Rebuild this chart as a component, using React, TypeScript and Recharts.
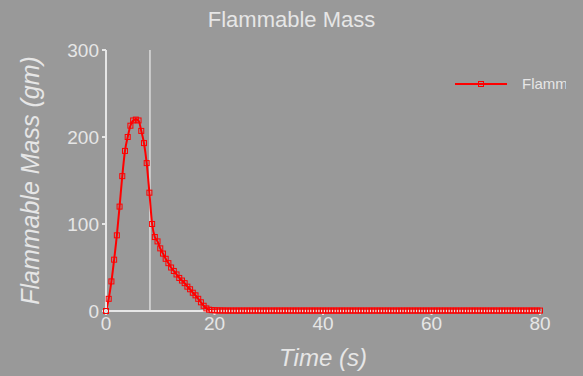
import { LineChart, Line, XAxis, YAxis, ReferenceLine } from "recharts"

// time in seconds, 0.5 s sampling
const peakTimes = [
  0, 0.5, 1, 1.5, 2, 2.5, 3, 3.5, 4, 4.5, 5, 5.5, 6, 6.5, 7, 7.5, 8, 8.5, 9, 9.5,
  10, 10.5, 11, 11.5, 12, 12.5, 13, 13.5, 14, 14.5, 15, 15.5, 16, 16.5, 17, 17.5, 18, 18.5, 19, 19.5,
]
// flammable mass (gm) during the release
const peakMass = [
  0, 14, 34, 59, 87, 120, 155, 184, 200, 213, 219, 220, 219, 207, 193, 170, 136, 100, 85, 80,
  72, 66, 60, 55, 50, 46, 42, 38, 35, 32, 28, 25, 21, 18, 14, 10, 6, 3, 1.5, 1,
]
// tail after 20 s, read as near zero
const tailTimes = [
  20, 20.5, 21, 21.5, 22, 22.5, 23, 23.5, 24, 24.5, 25, 25.5, 26, 26.5, 27, 27.5, 28, 28.5, 29, 29.5,
  30, 30.5, 31, 31.5, 32, 32.5, 33, 33.5, 34, 34.5, 35, 35.5, 36, 36.5, 37, 37.5, 38, 38.5, 39, 39.5,
  40, 40.5, 41, 41.5, 42, 42.5, 43, 43.5, 44, 44.5, 45, 45.5, 46, 46.5, 47, 47.5, 48, 48.5, 49, 49.5,
  50, 50.5, 51, 51.5, 52, 52.5, 53, 53.5, 54, 54.5, 55, 55.5, 56, 56.5, 57, 57.5, 58, 58.5, 59, 59.5,
  60, 60.5, 61, 61.5, 62, 62.5, 63, 63.5, 64, 64.5, 65, 65.5, 66, 66.5, 67, 67.5, 68, 68.5, 69, 69.5,
  70, 70.5, 71, 71.5, 72, 72.5, 73, 73.5, 74, 74.5, 75, 75.5, 76, 76.5, 77, 77.5, 78, 78.5, 79, 79.5,
  80,
]
const tailMass = [
  0.8, 0.7, 0.6, 0.6, 0.5, 0.5, 0.5, 0.5, 0.5, 0.5, 0.5, 0.5, 0.5, 0.5, 0.5, 0.5, 0.5, 0.5, 0.5, 0.5,
  0.5, 0.5, 0.5, 0.5, 0.5, 0.5, 0.5, 0.5, 0.5, 0.5, 0.5, 0.5, 0.5, 0.5, 0.5, 0.5, 0.5, 0.5, 0.5, 0.5,
  0.5, 0.5, 0.5, 0.5, 0.5, 0.5, 0.5, 0.5, 0.5, 0.5, 0.5, 0.5, 0.5, 0.5, 0.5, 0.5, 0.5, 0.5, 0.5, 0.5,
  0.5, 0.5, 0.5, 0.5, 0.5, 0.5, 0.5, 0.5, 0.5, 0.5, 0.5, 0.5, 0.5, 0.5, 0.5, 0.5, 0.5, 0.5, 0.5, 0.5,
  0.5, 0.5, 0.5, 0.5, 0.5, 0.5, 0.5, 0.5, 0.5, 0.5, 0.5, 0.5, 0.5, 0.5, 0.5, 0.5, 0.5, 0.5, 0.5, 0.5,
  0.5, 0.5, 0.5, 0.5, 0.5, 0.5, 0.5, 0.5, 0.5, 0.5, 0.5, 0.5, 0.5, 0.5, 0.5, 0.5, 0.5, 0.5, 0.5, 0.5,
  0.5,
]
const xTicks = [0, 20, 40, 60, 80]
const yTicks = [0, 100, 200, 300]
const markerTime = 8.1

const times = [...peakTimes, ...tailTimes]
const mass = [...peakMass, ...tailMass]
const data = times.map((t, i) => ({ time: t, mass: mass[i] }))

const font = "'Liberation Sans', Arial, sans-serif"
const light = "#e6e6e6"

function SquareDot(props: any) {
  const { cx, cy } = props
  if (cx == null || cy == null) return null
  return <rect x={cx - 2.5} y={cy - 2.5} width={5} height={5} fill="none" stroke="#ff0000" strokeWidth={1} />
}

function LegendBox() {
  return (
    <div style={{ position: "absolute", left: 453, top: 74, width: 130, height: 20, fontFamily: font }}>
      <svg width={60} height={20} style={{ position: "absolute", left: 0, top: 0 }}>
        <line x1={2} y1={10} x2={54} y2={10} stroke="#ff0000" strokeWidth={2} />
        <rect x={25.5} y={7.5} width={5} height={5} fill="none" stroke="#ff0000" strokeWidth={1} />
      </svg>
      <div
        style={{
          position: "absolute",
          left: 69,
          top: 1,
          width: 44,
          overflow: "hidden",
          whiteSpace: "nowrap",
          fontSize: 15,
          color: light,
        }}
      >
        Flammable Mass
      </div>
    </div>
  )
}

export default function App() {
  return (
    <div style={{ position: "fixed", left: 0, top: 0, width: 583, height: 376, background: "#999999" }}>
      <div
        style={{
          position: "absolute",
          top: 7,
          left: 0,
          width: 583,
          textAlign: "center",
          fontFamily: font,
          fontSize: 22,
          color: light,
        }}
      >
        Flammable Mass
      </div>
      <LineChart
        width={583}
        height={376}
        data={data}
        margin={{ top: 50, right: 43, left: 0, bottom: 0 }}
        style={{ fontFamily: font }}
      >
        <XAxis
          dataKey="time"
          type="number"
          domain={[0, 80]}
          ticks={xTicks}
          stroke={light}
          strokeWidth={2}
          tickSize={4}
          tick={{ fill: light, fontSize: 19 }}
          tickMargin={2}
          height={65}
          label={{
            value: "Time (s)",
            position: "insideBottom",
            offset: 10,
            fill: light,
            fontSize: 24,
            fontStyle: "italic",
          }}
        />
        <YAxis
          type="number"
          domain={[0, 300]}
          ticks={yTicks}
          stroke={light}
          strokeWidth={2}
          tickSize={4}
          width={106}
          tick={{ fill: light, fontSize: 19 }}
          tickMargin={3}
          label={{
            value: "Flammable Mass (gm)",
            angle: -90,
            position: "insideLeft",
            offset: 30,
            fill: light,
            fontSize: 25,
            fontStyle: "italic",
            style: { textAnchor: "middle" },
          }}
        />
        <ReferenceLine x={markerTime} stroke="#dcdcdc" strokeWidth={1.5} />
        <Line
          type="monotone"
          dataKey="mass"
          name="Flammable Mass"
          stroke="#ff0000"
          strokeWidth={2}
          dot={<SquareDot />}
          isAnimationActive={false}
        />
      </LineChart>
      <LegendBox />
    </div>
  )
}
